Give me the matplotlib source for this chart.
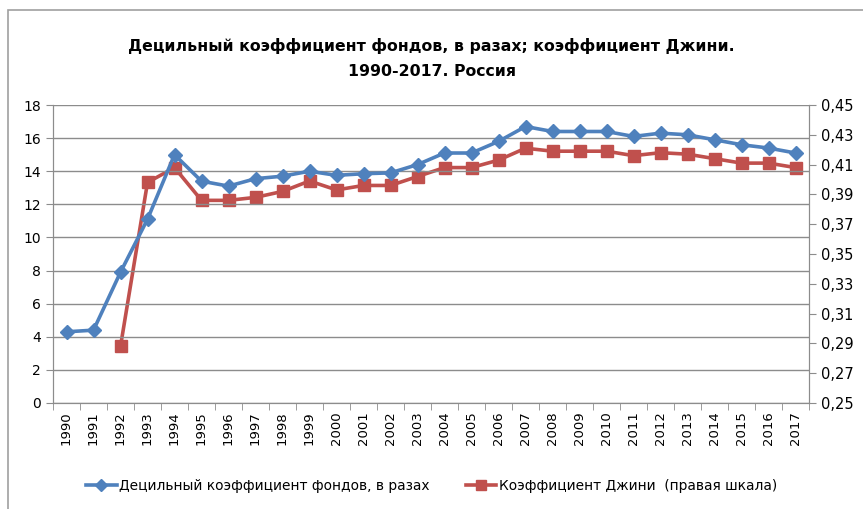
import matplotlib
matplotlib.use("Agg")
import matplotlib.pyplot as plt
import numpy as np
from matplotlib.patches import Rectangle
from matplotlib.lines import Line2D

plt.rcParams['font.family'] = ['DejaVu Sans']

years = [str(y) for y in range(1990, 2018)]
decile = [4.3, 4.4, 7.9, 11.1, 15.0, 13.4, 13.1, 13.55, 13.7, 14.0, 13.75, 13.85,
          13.9, 14.4, 15.1, 15.1, 15.8, 16.7, 16.4, 16.4, 16.4, 16.1, 16.3, 16.2,
          15.9, 15.6, 15.4, 15.1]
gini_years = years[2:]
gini = [0.288, 0.398, 0.408, 0.386, 0.386, 0.388, 0.392, 0.399, 0.393, 0.396,
        0.396, 0.402, 0.408, 0.408, 0.413, 0.421, 0.419, 0.419, 0.419, 0.416,
        0.418, 0.417, 0.414, 0.411, 0.411, 0.408]

title = "Децильный коэффициент фондов, в разах; коэффициент Джини.\n1990-2017. Россия"
lab1 = "Децильный коэффициент фондов, в разах"
lab2 = "Коэффициент Джини  (правая шкала)"

blue = "#4F81BD"
red = "#C0504D"
grey = "#8C8C8C"

fig = plt.figure(figsize=(8.63, 5.09), dpi=100)
fig.patches.append(Rectangle((8 / 863, -0.1), 2, (509 - 10) / 509 + 0.1,
                             transform=fig.transFigure, fill=False,
                             edgecolor="#A0A0A0", lw=1.2))

ax = fig.add_axes([53 / 863, 106 / 509, (809 - 53) / 863, (403 - 105) / 509])
ax2 = ax.twinx()

x = np.arange(len(years))
xg = np.array([years.index(y) for y in gini_years])

ax.plot(x, decile, color=blue, lw=2.6, marker="D", ms=7, zorder=3)
ax2.plot(xg, gini, color=red, lw=2.6, marker="s", ms=9, zorder=3)

ax.set_xlim(-0.5, len(years) - 0.5)
ax.set_ylim(0, 18)
ax.set_yticks(np.arange(0, 19, 2))
ax2.set_ylim(0.25, 0.45)
ax2.set_yticks(np.arange(0.25, 0.4501, 0.02))
ax2.set_yticklabels([f"{v:.2f}".replace(".", ",") for v in np.arange(0.25, 0.4501, 0.02)])

ax.set_xticks(x)
ax.set_xticklabels(years, rotation=90, fontsize=9.5)
ax.set_xticks(np.arange(-0.5, len(years)), minor=True)
ax.tick_params(axis="x", which="major", length=0, pad=6)
ax.tick_params(axis="x", which="minor", length=5, color=grey, direction="out")
ax.tick_params(axis="y", length=5, color=grey, labelsize=10)
ax2.tick_params(axis="y", length=5, color=grey, labelsize=10.5)

ax.yaxis.grid(True, color=grey, lw=1)
ax.set_axisbelow(True)
for a in (ax, ax2):
    a.spines["top"].set_visible(False)
    for s in ("left", "right", "bottom"):
        a.spines[s].set_color(grey)
ax.patch.set_visible(False)
ax2.set_zorder(ax.get_zorder() - 1)
ax.set_zorder(ax2.get_zorder() + 1)

fig.text(0.5, 0.885, title, ha="center", va="center", fontsize=11.3,
         fontweight="bold", linespacing=1.85)

h1 = Line2D([], [], color=blue, lw=2.6, marker="D", ms=6)
h2 = Line2D([], [], color=red, lw=2.6, marker="s", ms=7)
fig.legend([h1, h2], [lab1, lab2], loc="center", bbox_to_anchor=(0.5, 0.045),
           ncol=2, frameon=False, fontsize=9.9, handlelength=2.2,
           handletextpad=0.2, columnspacing=2.6)

fig.savefig("out.png", dpi=100)
